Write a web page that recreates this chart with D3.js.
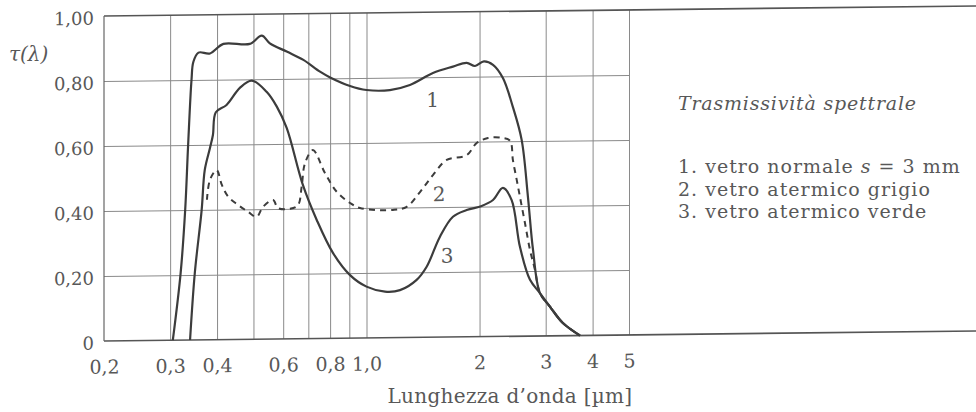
<!DOCTYPE html>
<html>
<head>
<meta charset="utf-8">
<script src="https://cdn.jsdelivr.net/npm/d3@7"></script>
<style>
  body { margin: 0; background: #fff; }
  svg text { font-family: "DejaVu Serif", "Liberation Serif", serif; fill: #585858; }
</style>
</head>
<body>
<div id="chart"></div>
<script>
// valeurs (lambda en µm, tau sans unité)
const yTicks = [0, 0.2, 0.4, 0.6, 0.8, 1.0]
const yTickLabels = ["0", "0,20", "0,40", "0,60", "0,80", "1,00"]
const xGrid = [0.3, 0.4, 0.5, 0.6, 0.7, 0.8, 0.9, 1, 2, 3, 4, 5]
const xTicks = [0.2, 0.3, 0.4, 0.6, 0.8, 1, 2, 3, 4, 5]
const xTickLabels = ["0,2", "0,3", "0,4", "0,6", "0,8", "1,0", "2", "3", "4", "5"]

// 1. vetro normale
const lambda1 = [0.305, 0.320, 0.329, 0.335, 0.342, 0.346, 0.357, 0.383, 0.416, 0.489, 0.526, 0.553, 0.613, 0.679, 0.752, 0.800, 0.904, 1.00, 1.154, 1.305, 1.503, 1.699, 1.848, 1.945, 2.054, 2.172, 2.308, 2.454, 2.589, 2.691, 2.776, 2.896, 3.079, 3.334, 3.70]
const tau1 = [0, 0.207, 0.400, 0.600, 0.800, 0.856, 0.884, 0.881, 0.910, 0.909, 0.934, 0.910, 0.884, 0.858, 0.821, 0.803, 0.776, 0.763, 0.762, 0.777, 0.813, 0.832, 0.843, 0.833, 0.847, 0.836, 0.795, 0.705, 0.604, 0.428, 0.265, 0.132, 0.090, 0.039, 0]

// 2. vetro atermico grigio (tratteggiata)
const lambda2 = [0.376, 0.383, 0.399, 0.412, 0.428, 0.455, 0.483, 0.510, 0.530, 0.564, 0.581, 0.626, 0.657, 0.672, 0.686, 0.720, 0.775, 0.833, 0.904, 0.961, 1.176, 1.279, 1.388, 1.503, 1.635, 1.848, 1.965, 2.106, 2.290, 2.410, 2.454, 2.512, 2.562, 2.642, 2.725, 2.810, 2.896, 3.079, 3.334, 3.70]
const tau2 = [0.431, 0.492, 0.522, 0.476, 0.440, 0.414, 0.393, 0.377, 0.407, 0.428, 0.403, 0.400, 0.411, 0.468, 0.540, 0.580, 0.509, 0.451, 0.416, 0.400, 0.393, 0.402, 0.447, 0.499, 0.545, 0.559, 0.596, 0.611, 0.611, 0.602, 0.542, 0.481, 0.429, 0.348, 0.265, 0.203, 0.132, 0.090, 0.039, 0]

// 3. vetro atermico verde
const lambda3 = [0.339, 0.349, 0.364, 0.371, 0.383, 0.390, 0.397, 0.424, 0.460, 0.495, 0.542, 0.577, 0.613, 0.677, 0.737, 0.814, 0.904, 1.00, 1.120, 1.228, 1.360, 1.446, 1.569, 1.699, 1.848, 2.026, 2.172, 2.308, 2.435, 2.562, 2.725, 2.896, 3.079, 3.334, 3.70]
const tau3 = [0, 0.206, 0.400, 0.523, 0.590, 0.630, 0.700, 0.722, 0.774, 0.796, 0.761, 0.715, 0.649, 0.473, 0.365, 0.263, 0.194, 0.158, 0.142, 0.146, 0.177, 0.217, 0.309, 0.370, 0.390, 0.402, 0.420, 0.457, 0.419, 0.275, 0.173, 0.132, 0.090, 0.039, 0]

const curveLabels = [{t: "1", lam: 1.50, tau: 0.73}, {t: "2", lam: 1.56, tau: 0.44}, {t: "3", lam: 1.64, tau: 0.25}]
const legendTitle = "Trasmissività spettrale"
const legendRows = ["1. vetro normale ", "2. vetro atermico grigio", "3. vetro atermico verde"]

const FONT = '"DejaVu Serif", "Liberation Serif", serif'
const W = 976, H = 412
const mLeft = 104, mBottom = 341, mTop = 16
const x = d3.scaleLog().domain([0.2, 5]).range([mLeft, 629])
const y = d3.scaleLinear().domain([0, 1]).range([mBottom, mTop])

const svg = d3.select("#chart").append("svg").attr("width", W).attr("height", H)
  .style("font-family", FONT)
// la scansione est légèrement penchée
const g = svg.append("g")
  .attr("transform", `translate(${mLeft},${mBottom}) skewY(-0.66) translate(${-mLeft},${-mBottom})`)

// grille verticale
g.append("g").attr("transform", `translate(0,${mBottom})`)
  .call(d3.axisBottom(x).tickValues(xGrid).tickSize(-(mBottom - mTop)).tickFormat(""))
  .call(a => a.select(".domain").remove())
  .call(a => a.selectAll("line").attr("stroke", "#8a8a8a").attr("stroke-width", 1))

// grille horizontale (s'arrête à 5 µm)
g.append("g").attr("transform", `translate(${mLeft},0)`)
  .call(d3.axisLeft(y).tickValues(yTicks.slice(1, 5)).tickSize(-(x(5) - mLeft)).tickFormat(""))
  .call(a => a.select(".domain").remove())
  .call(a => a.selectAll("line").attr("stroke", "#8a8a8a").attr("stroke-width", 1))

// cadre
g.append("line").attr("x1", mLeft).attr("x2", W + 10).attr("y1", mTop).attr("y2", mTop)
  .attr("stroke", "#555").attr("stroke-width", 1.6)
g.append("line").attr("x1", mLeft).attr("x2", W + 10).attr("y1", mBottom).attr("y2", mBottom)
  .attr("stroke", "#555").attr("stroke-width", 1.6)
g.append("line").attr("x1", mLeft).attr("x2", mLeft).attr("y1", mTop).attr("y2", mBottom)
  .attr("stroke", "#666").attr("stroke-width", 1.2)

// étiquettes des axes
g.append("g").attr("transform", `translate(0,${mBottom})`)
  .call(d3.axisBottom(x).tickValues(xTicks).tickSize(0).tickPadding(19)
    .tickFormat((d, i) => xTickLabels[i]))
  .call(a => a.select(".domain").remove())
  .call(a => a.attr("font-family", FONT))
  .call(a => a.selectAll("text").style("font-size", "19px").attr("fill", "#585858"))

g.append("g").attr("transform", `translate(${mLeft - 10},0)`)
  .call(d3.axisLeft(y).tickValues(yTicks).tickSize(0).tickPadding(0)
    .tickFormat((d, i) => yTickLabels[i]))
  .call(a => a.select(".domain").remove())
  .call(a => a.attr("font-family", FONT))
  .call(a => a.selectAll("text").style("font-size", "18px").attr("fill", "#585858").attr("dy", "0.45em"))

svg.append("text").attr("x", 9).attr("y", 61).style("font-size", "20px")
  .style("font-style", "italic").text("τ(λ)")

svg.append("text").attr("x", 510).attr("y", 403).attr("text-anchor", "middle")
  .style("font-size", "20px").style("letter-spacing", "0.3px").text("Lunghezza d’onda [µm]")

// courbes
const line = d3.line().x(d => x(d[0])).y(d => y(d[1])).curve(d3.curveCatmullRom.alpha(0.5))
const series = [
  {lam: lambda1, tau: tau1, dash: null},
  {lam: lambda2, tau: tau2, dash: "6,5"},
  {lam: lambda3, tau: tau3, dash: null}
]
series.forEach(s => {
  g.append("path").datum(d3.zip(s.lam, s.tau))
    .attr("d", line).attr("fill", "none")
    .attr("stroke", "#3c3c3c").attr("stroke-width", s.dash ? 2 : 2.2)
    .attr("stroke-dasharray", s.dash)
    .attr("stroke-linejoin", "round")
})

g.selectAll("text.num").data(curveLabels).enter().append("text")
  .attr("class", "num")
  .attr("x", d => x(d.lam)).attr("y", d => y(d.tau))
  .attr("text-anchor", "middle").attr("dy", "0.35em")
  .style("font-size", "20px").text(d => d.t)

// légende
const leg = svg.append("g").attr("transform", "translate(678,0)")
leg.append("text").attr("y", 110).style("font-size", "19px").style("font-style", "italic")
  .style("letter-spacing", "0.8px").text(legendTitle)
legendRows.forEach((r, i) => {
  const t = leg.append("text").attr("y", 173 + i * 22.5).style("font-size", "19px")
    .style("letter-spacing", "1px")
  t.append("tspan").text(r)
  if (i == 0) {
    t.append("tspan").style("font-style", "italic").text("s")
    t.append("tspan").text(" = 3 mm")
  }
})
</script>
</body>
</html>
